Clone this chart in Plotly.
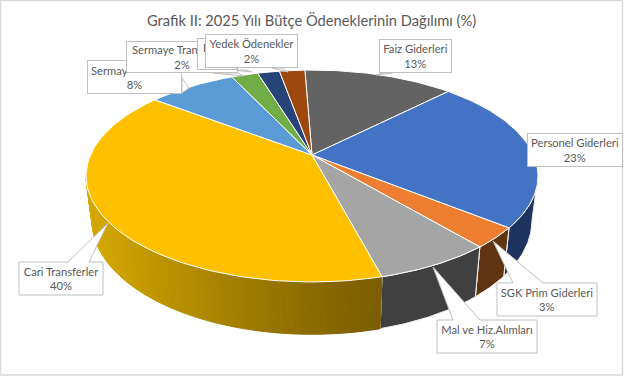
import numpy as np
import plotly.graph_objects as go

# ---- data (share of the 2025 budget, %) ----
categories = ["Faiz Giderleri", "Personel Giderleri", "SGK Prim Giderleri", "Mal ve Hiz.Alımları",
              "Cari Transferler", "Sermaye Giderleri", "Sermaye Transferleri", "E", "Yedek Ödenekler"]
values = [13.0, 23.4, 3.1, 7.0, 39.5, 7.6, 2.3, 1.9, 2.2]
printed_percent = [13, 23, 3, 7, 40, 8, 2, 2, 2]
title_text = "Grafik II: 2025 Yılı Bütçe Ödeneklerinin Dağılımı (%)"

# ---- styles ----
top_colors = ["#636363", "#4472C4", "#ED7D31", "#A5A5A5", "#FFC000", "#5B9BD5", "#70AD47", "#264478", "#9E480E"]
wall_colors = ["#3a3a3a", "#1D3461", "#5F3410", "#404040", None, "#1D3461", "#1D3461", "#1D3461", "#1D3461"]
FONT = "Lato"
TXT = "#595959"
EDGE = "#BFBFBF"
START = -2.2

# ---- projection of the tilted disc (top face and bottom face) ----
K = 0.198
def project(theta_deg, cx, cy, A, B):
    t = np.radians(theta_deg)
    u, v = np.sin(t), np.cos(t)
    w = 1 + K * v
    return cx + A * u / w, cy - B * v / w
def top(t):
    return project(t, 312, 155, 221.5, 101.8)
def low(t):
    return project(t, 312, 198, 215.6, 109.3)

fig = go.Figure()
def poly(xs, ys, fill, line="rgba(0,0,0,0)", lw=0.0):
    fig.add_trace(go.Scatter(x=list(xs), y=list(ys), mode="lines", fill="toself", fillcolor=fill,
                             line=dict(color=line, width=lw), hoverinfo="skip", showlegend=False))

edges = START + np.cumsum([0] + values) * 3.6

def wall_color_cari(x):
    xp = [90, 240, 310, 385]
    r = np.interp(x, xp, [0xD6, 0xA2, 0x8C, 0x7A])
    g = np.interp(x, xp, [0xA9, 0x7E, 0x6C, 0x5C])
    return f"rgb({int(r)},{int(g)},0)"

# side walls (only the front half of the rim is visible)
FRONT_A, FRONT_B = 101.4, 258.6
for i in range(len(values)):
    a, b = max(edges[i], FRONT_A), min(edges[i + 1], FRONT_B)
    if a >= b:
        continue
    ts = np.linspace(a, b, 40)
    if wall_colors[i] is None:
        steps = np.linspace(a, b, 71)
        for s0, s1 in zip(steps[:-1], steps[1:]):
            x0, y0 = top(np.array([s0, s1]))
            x1, y1 = low(np.array([s1, s0]))
            c = wall_color_cari((x0.mean() + x1.mean()) / 2)
            poly(np.r_[x0, x1, x0[0]], np.r_[y0, y1, y0[0]], c, c, 1)
    else:
        xa, ya = top(ts)
        xb, yb = low(ts[::-1])
        poly(np.r_[xa, xb, xa[0]], np.r_[ya, yb, ya[0]], wall_colors[i], "#F2F2F2", 1)
    if edges[i + 1] < FRONT_B:
        xa, ya = top(edges[i + 1]); xb, yb = low(edges[i + 1])
        fig.add_trace(go.Scatter(x=[xa, xb], y=[ya, yb], mode="lines", line=dict(color="#F2F2F2", width=1),
                                 hoverinfo="skip", showlegend=False))

# top face
for i in range(len(values)):
    ts = np.linspace(edges[i], edges[i + 1], 80)
    x, y = top(ts)
    ox, oy = top(0)[0], 155
    poly(np.r_[ox, x, ox], np.r_[oy, y, oy], top_colors[i], "#FFFFFF", 1)

# ---- callouts: centre x, centre y, width, height ----
callouts = {
    "Sermaye Giderleri":   (134.5, 77, 95, 34),
    "Sermaye Transferleri": (182, 57, 112, 32),
    "E":                   (217, 54, 40, 32),
    "Yedek Ödenekler":     (251.5, 51, 93, 34),
    "Faiz Giderleri":      (415.5, 56, 73, 34),
    "Personel Giderleri":  (575, 150, 96, 34),
    "SGK Prim Giderleri":  (547, 299.5, 100, 33),
    "Mal ve Hiz.Alımları": (487, 336.5, 100, 33),
    "Cari Transferler":    (61, 278.5, 84, 33),
}
# labels whose first line the next box hides in the reference: visible part, left x, y
clipped_first_line = {
    "Sermaye Giderleri":    (6, 90, 70),
    "Sermaye Transferleri": (12, 131, 49),
    "E":                    (1, 202, 47),
}
small_tails = [
    ([376, 392, 383], [75, 73, 73]),
    ([182, 189, 182], [78, 88, 93]),
    ([213, 243, 238], [73, 76, 73]),
    ([232, 252, 246], [70, 72, 70]),
    ([272, 288, 282], [68, 72, 68]),
]
for tx, ty in small_tails:
    poly(tx + tx[:1], ty + ty[:1], "#FFFFFF", EDGE, 1)

wedges = {
    "SGK Prim Giderleri":  ((493, 241), 513, 543),
    "Mal ve Hiz.Alımları": ((433, 267), 453, 480),
    "Cari Transferler":    ((108, 223), 68, 89),
}
for name, (tip, b0, b1) in wedges.items():
    cx, cy, w, h = callouts[name]
    l, r, t, bt = cx - w / 2, cx + w / 2, cy - h / 2, cy + h / 2
    poly([l, b0, tip[0], b1, r, r, l, l], [t, t, tip[1], t, t, bt, bt, t], "#FFFFFF", EDGE, 1)

order = ["Sermaye Giderleri", "Sermaye Transferleri", "E", "Yedek Ödenekler", "Faiz Giderleri",
         "Personel Giderleri", "SGK Prim Giderleri", "Mal ve Hiz.Alımları", "Cari Transferler"]
LABEL_FONT = dict(family=FONT, size=11.2, color=TXT)
annots = []
for name in order:
    cx, cy, w, h = callouts[name]
    pct = printed_percent[categories.index(name)]
    boxed = name not in wedges
    if name == "E":
        text = "&nbsp;"
    elif name in clipped_first_line:
        text = f"&nbsp;<br>{pct}%"
    else:
        text = f"{name}<br>{pct}%"
    annots.append(dict(
        x=cx, y=cy, xref="x", yref="y", text=text, showarrow=False,
        width=w - 4, height=h - 4, align="center", valign="middle",
        font=LABEL_FONT,
        bgcolor="#FFFFFF" if boxed else "rgba(0,0,0,0)",
        bordercolor=EDGE if boxed else "rgba(0,0,0,0)", borderwidth=1, borderpad=1,
    ))
    if name in clipped_first_line:
        n, lx, ly = clipped_first_line[name]
        annots.append(dict(x=lx, y=ly, xref="x", yref="y", text=name[:n], showarrow=False,
                           xanchor="left", yanchor="middle", borderpad=0, font=LABEL_FONT))
annots.append(dict(x=311, y=20, xref="x", yref="y", text=title_text, showarrow=False,
                   font=dict(family=FONT, size=14.7, color=TXT)))

fig.update_layout(
    width=624, height=376, margin=dict(l=0, r=0, t=0, b=0), autosize=False,
    paper_bgcolor="white", plot_bgcolor="white", showlegend=False, annotations=annots,
    xaxis=dict(range=[0, 624], visible=False, fixedrange=True),
    yaxis=dict(range=[376, 0], visible=False, fixedrange=True),
    shapes=[dict(type="rect", xref="x", yref="y", x0=0.5, y0=0.5, x1=622.5, y1=375,
                 line=dict(color="#D9D9D9", width=1.5), layer="below")],
)
fig.write_html("out.html", config={"displayModeBar": False},
               post_script="document.body.style.margin='0';document.documentElement.style.overflow='hidden';")
